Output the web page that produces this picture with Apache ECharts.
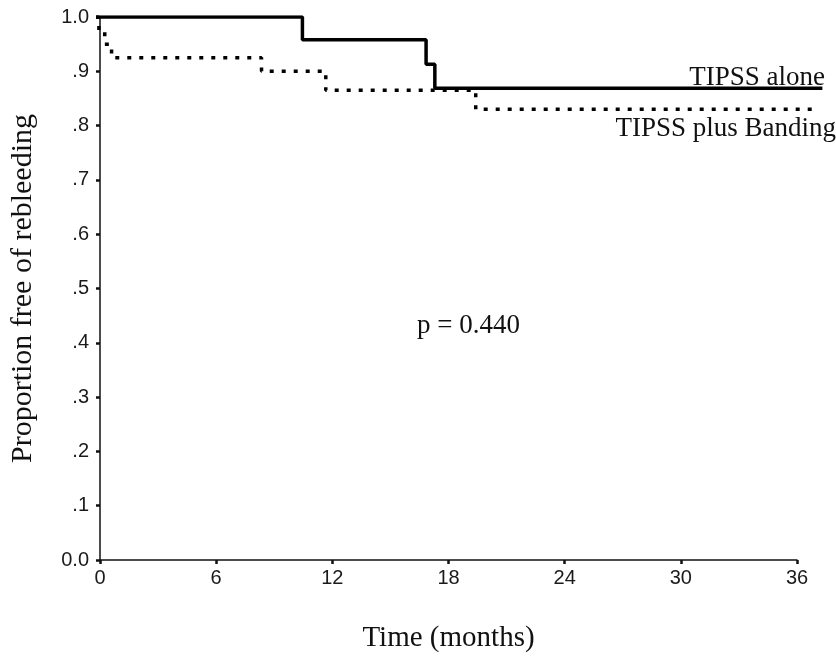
<!DOCTYPE html>
<html style="height: 100%">
<head>
    <meta charset="utf-8">
</head>
<body style="height: 100%; margin: 0; background: #fff">
<div id="km" style="width: 836px; height: 670px"></div>
<script src="https://cdn.jsdelivr.net/npm/echarts@6/dist/echarts.min.js"></script>
<script type="text/javascript">
    // 数据 (months, proportion free of rebleeding)
    var timesAlone = [0, 10.6, 16.95, 17.4, 37.3];
    var survAlone = [1.0, 0.958, 0.913, 0.869, 0.869];
    var timesBanding = [0, 0.15, 0.45, 0.8, 8.5, 11.8, 19.5, 36.9];
    var survBanding = [1.0, 0.975, 0.95, 0.925, 0.9, 0.865, 0.83, 0.83];
    var xTicks = [0, 6, 12, 18, 24, 30, 36];
    var yTickLabels = ['0.0', '.1', '.2', '.3', '.4', '.5', '.6', '.7', '.8', '.9', '1.0'];

    function pairs(xs, ys) {
        var out = [];
        for (var i = 0; i < xs.length; i++) {
            out.push([xs[i], ys[i]]);
        }
        return out;
    }

    var myChart = echarts.init(document.getElementById('km'));
    var serif = 'Liberation Serif';
    var sans = 'Liberation Sans';

    // the curves run a little past the 36 month end of the axis,
    // so they live on a second, hidden grid with the same scale (38 months)
    var option = {
        backgroundColor: '#fff',
        animation: false,
        grid: [
            { left: 96, right: 39, top: 17, bottom: 110 },
            { left: 96, right: 0, top: 17, bottom: 110 }
        ],
        xAxis: [{
            type: 'value',
            gridIndex: 0,
            min: xTicks[0],
            max: xTicks[xTicks.length - 1],
            interval: 6,
            name: 'Time (months)',
            nameLocation: 'middle',
            nameGap: 64,
            nameTextStyle: { fontFamily: serif, fontSize: 29, color: '#111' },
            axisLine: { lineStyle: { color: '#111', width: 1.5 } },
            axisTick: { length: 4, lineStyle: { color: '#111', width: 2.5 } },
            axisLabel: { fontFamily: sans, fontSize: 20, color: '#1a1a1a', margin: 8 },
            splitLine: { show: false }
        }, {
            type: 'value',
            gridIndex: 1,
            min: 0,
            max: 38,
            show: false
        }],
        yAxis: [{
            type: 'value',
            gridIndex: 0,
            min: 0,
            max: 1,
            interval: 0.1,
            name: 'Proportion free of rebleeding',
            nameLocation: 'middle',
            nameGap: 62,
            nameRotate: 90,
            nameTextStyle: { fontFamily: serif, fontSize: 30, color: '#111' },
            axisLine: { lineStyle: { color: '#111', width: 1.5 } },
            axisTick: { length: 4, lineStyle: { color: '#111', width: 2.5 } },
            axisLabel: {
                fontFamily: sans, fontSize: 20, color: '#1a1a1a', margin: 11,
                formatter: function (v) {
                    return yTickLabels[Math.round(v * 10)];
                }
            },
            splitLine: { show: false }
        }, {
            type: 'value',
            gridIndex: 1,
            min: 0,
            max: 1,
            show: false
        }],
        graphic: [
            { type: 'text', right: 11, top: 64, style: { text: 'TIPSS alone', font: '27px "Liberation Serif"', fill: '#111' } },
            { type: 'text', right: 0, top: 115, style: { text: 'TIPSS plus Banding', font: '27px "Liberation Serif"', fill: '#111' } },
            { type: 'text', left: 417, top: 312, style: { text: 'p = 0.440', font: '27px "Liberation Serif"', fill: '#111' } }
        ],
        series: [
            {
                name: 'TIPSS alone',
                type: 'line',
                xAxisIndex: 1,
                yAxisIndex: 1,
                step: 'end',
                showSymbol: false,
                lineStyle: { color: '#000', width: 3.5 },
                data: pairs(timesAlone, survAlone)
            },
            {
                name: 'TIPSS plus Banding',
                type: 'line',
                xAxisIndex: 1,
                yAxisIndex: 1,
                step: 'end',
                showSymbol: false,
                lineStyle: { color: '#000', width: 3.5, type: [4, 8] },
                data: pairs(timesBanding, survBanding)
            }
        ]
    };
    myChart.setOption(option);
</script>
</body>
</html>
